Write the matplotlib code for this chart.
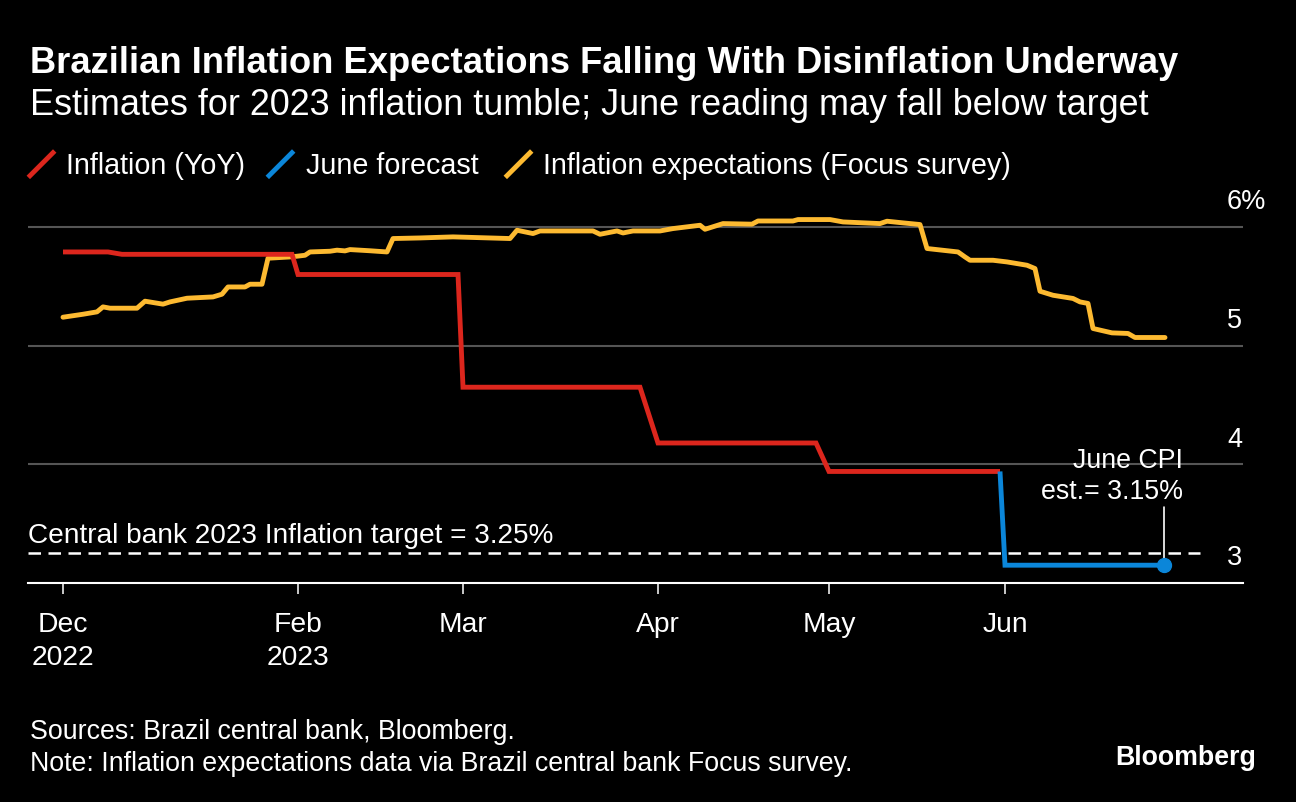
import matplotlib
matplotlib.use("Agg")
import matplotlib.pyplot as plt
from matplotlib.lines import Line2D
from matplotlib.transforms import ScaledTranslation, blended_transform_factory

tick_pos = [0, 235, 400, 595, 766, 942]
tick_labels = ["Dec\n2022", "Feb\n2023", "Mar", "Apr", "May", "Jun"]

# Inflation (YoY), %
cpi_x = [0, 45, 59, 229, 235, 395, 400, 577, 595, 753, 766, 937]
cpi_y = [5.79, 5.79, 5.77, 5.77, 5.60, 5.60, 4.65, 4.65, 4.18, 4.18, 3.94, 3.94]

# June forecast
fc_x = [937, 942, 1101]
fc_y = [3.94, 3.15, 3.15]

# Focus survey expectations for 2023 inflation, %
exp_x = [0, 20, 34, 40, 47, 74, 82, 100, 107, 124, 150, 159, 165, 182, 187, 199,
         205, 227, 234, 242, 247, 267, 274, 282, 287, 307, 324, 330, 357, 390,
         447, 454, 470, 477, 530, 537, 554, 560, 570, 597, 610, 637, 642, 660,
         689, 695, 730, 735, 767, 780, 817, 824, 840, 857, 864, 895, 902, 907,
         930, 944, 964, 972, 977, 990, 1010, 1017, 1025, 1030, 1049, 1065, 1072,
         1102]
exp_y = [5.24, 5.265, 5.285, 5.327, 5.316, 5.316, 5.375, 5.350, 5.369, 5.400,
         5.411, 5.434, 5.495, 5.495, 5.518, 5.518, 5.737, 5.748, 5.754, 5.762,
         5.790, 5.796, 5.805, 5.799, 5.810, 5.800, 5.790, 5.903, 5.908, 5.917,
         5.903, 5.973, 5.945, 5.967, 5.967, 5.939, 5.967, 5.950, 5.967, 5.967,
         5.987, 6.015, 5.981, 6.029, 6.024, 6.051, 6.051, 6.063, 6.063, 6.043,
         6.029, 6.049, 6.035, 6.021, 5.819, 5.790, 5.748, 5.720, 5.720, 5.706,
         5.678, 5.650, 5.459, 5.425, 5.398, 5.369, 5.356, 5.145, 5.108, 5.103,
         5.069, 5.069]

target = 3.25
target_end = 1137
y_ticks = [3, 4, 5, 6]
y_labels = ["3", "4", "5", "6%"]

RED = "#dc261d"
BLUE = "#0b86d9"
YELLOW = "#fdba31"
GRID = "#555555"

plt.rcParams["font.family"] = ["Liberation Sans", "DejaVu Sans"]

fig = plt.figure(figsize=(12.96, 8.02), dpi=100, facecolor="black")
ax = fig.add_axes([28 / 1296, 1 - 583 / 802, 1215 / 1296, 379.7 / 802])
ax.set_facecolor("black")

ax.plot(exp_x, exp_y, color=YELLOW, lw=3.5, solid_joinstyle="round", solid_capstyle="round", zorder=3)
ax.plot(cpi_x, cpi_y, color=RED, lw=3.5, solid_joinstyle="miter", solid_capstyle="butt", zorder=4)
ax.plot(fc_x, fc_y, color=BLUE, lw=3.5, solid_joinstyle="miter", solid_capstyle="butt", zorder=4)
ax.plot(fc_x[-1], fc_y[-1], "o", color=BLUE, ms=10, zorder=5)

# target line
ax.hlines(target, -35, target_end, color="white", lw=1.8, linestyles=(0, (5, 3)), zorder=2)
ax.text(0, 3.336, "Central bank 2023 Inflation target = 3.25%", color="white", fontsize=20.2,
        transform=blended_transform_factory(ax.transAxes, ax.transData), va="baseline", ha="left")

# June CPI annotation
ax.annotate("", xy=(fc_x[-1], fc_y[-1]), xytext=(fc_x[-1], 3.64),
            arrowprops=dict(arrowstyle="-", color="white", lw=1.2, shrinkA=0, shrinkB=0), zorder=4)
ax.text(1120, 3.968, "June CPI", color="white", fontsize=19.3, ha="right", va="baseline")
ax.text(1120, 3.707, "est.= 3.15%", color="white", fontsize=19.3, ha="right", va="baseline")

ax.set_xlim(-35, 1180)
ax.set_ylim(3, 6.2)

ax.set_xticks(tick_pos)
ax.set_xticklabels(tick_labels, linespacing=1.32)
ax.tick_params(axis="x", colors="white", length=8, width=1.1, pad=13, labelsize=20.3)

ax.yaxis.tick_right()
ax.set_yticks(y_ticks)
ax.set_yticklabels(y_labels)
ax.tick_params(axis="y", length=0, pad=-11.5, labelsize=19.5, labelcolor="white")
for lab in ax.get_yticklabels():
    lab.set_verticalalignment("baseline")
    lab.set_horizontalalignment("left")
    lab.set_transform(lab.get_transform() + ScaledTranslation(0, 12.7 / 72, fig.dpi_scale_trans))

ax.grid(axis="y", color=GRID, lw=1.5)
ax.grid(axis="x", visible=False)
for side in ["top", "left", "right"]:
    ax.spines[side].set_visible(False)
ax.spines["bottom"].set_color("white")
ax.spines["bottom"].set_linewidth(1.5)
ax.spines["bottom"].set_zorder(2.5)

# title block
fig.text(30 / 1296, 1 - 73 / 802, "Brazilian Inflation Expectations Falling With Disinflation Underway",
         color="white", fontsize=26.2, fontweight="bold", va="baseline")
fig.text(30 / 1296, 1 - 115 / 802, "Estimates for 2023 inflation tumble; June reading may fall below target",
         color="white", fontsize=25.9, va="baseline")

# legend with slash markers
legend_items = [("Inflation (YoY)", RED, 30, 66), ("June forecast", BLUE, 269, 306),
                ("Inflation expectations (Focus survey)", YELLOW, 507, 543)]
for label, col, sx, tx in legend_items:
    fig.add_artist(Line2D([sx / 1296, (sx + 23) / 1296], [1 - 175.7 / 802, 1 - 152.7 / 802],
                          color=col, lw=3.5, transform=fig.transFigure))
    fig.text(tx / 1296, 1 - 174 / 802, label, color="white", fontsize=20.7, va="baseline")

# footer
fig.text(30 / 1296, 1 - 739 / 802, "Sources: Brazil central bank, Bloomberg.", color="white", fontsize=19.3, va="baseline")
fig.text(30 / 1296, 1 - 771 / 802, "Note: Inflation expectations data via Brazil central bank Focus survey.",
         color="white", fontsize=19.3, va="baseline")
fig.text(1256 / 1296, 1 - 765 / 802, "Bloomberg", color="white", fontsize=19.3, fontweight="bold",
         ha="right", va="baseline")

fig.savefig("out.png", dpi=100, facecolor="black")
